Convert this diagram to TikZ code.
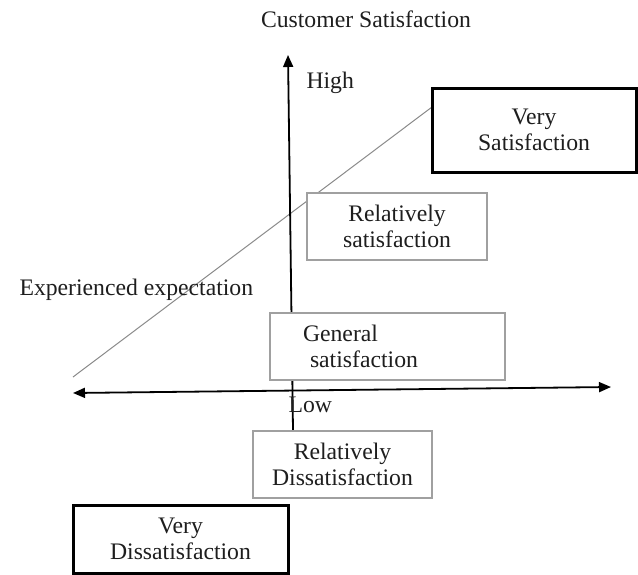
\documentclass[tikz,border=0pt]{standalone}
\usepackage{fontspec}
\setmainfont{Liberation Serif}
\usetikzlibrary{arrows.meta,backgrounds}

\definecolor{boxgray}{HTML}{A0A0A0}
\definecolor{diaggray}{HTML}{8A8A8A}
\definecolor{ink}{HTML}{1E1E1E}

\begin{document}
\begin{tikzpicture}[x=1pt,y=-1pt,
  every node/.style={font=\fontsize{23.7}{26}\selectfont, text=ink},
  lightbox/.style={draw=boxgray, line width=1.8pt, fill=white, align=center},
  heavybox/.style={draw=black, line width=3pt, fill=white, align=center},
  axisline/.style={draw=black, line width=1.8pt},
  axisarrow/.style={-{Triangle[length=12pt,width=10pt]}},
  trendline/.style={draw=diaggray, line width=1pt}]

  \useasboundingbox (0,0) rectangle (638,574);

  % labels
  \node[anchor=base] (title) at (366,27) {Customer Satisfaction};
  \node[anchor=base west] (high) at (303,88) {High};
  \node[anchor=base west] (expect) at (16,295) {Experienced expectation};
  \node[anchor=base west] (low) at (285,412) {Low};

  % satisfaction levels
  \node[heavybox, minimum width=204, minimum height=84] (vs) at (534,130)
    {Very\\Satisfaction};
  \node[lightbox, minimum width=180, minimum height=67] (rs) at (397,226.5)
    {Relatively\\satisfaction};
  \node[lightbox, minimum width=235, minimum height=67, inner xsep=33pt,
        text width=169pt, align=left] (gs) at (387.5,346.5)
    {General\\\hspace*{7pt}satisfaction};
  \node[lightbox, minimum width=179, minimum height=67] (rd) at (342.5,464.5)
    {Relatively\\Dissatisfaction};
  \node[heavybox, minimum width=215, minimum height=68] (vd) at (180.5,539)
    {Very\\Dissatisfaction};

  % axes and expectation line, kept behind the boxes
  \coordinate (ybot) at (293,430);
  \coordinate (ytop) at (288,55);
  \coordinate (xleft) at (73,393);
  \coordinate (xright) at (611,387);
  \coordinate (dstart) at (73,377);
  \coordinate (dend) at (432,107);

  \begin{scope}[on background layer]
    \draw[trendline] (dstart) -- (dend);
    \draw[axisline, axisarrow] (ybot) -- (ytop);
    \draw[axisline, {Triangle[length=12pt,width=10pt]}-{Triangle[length=12pt,width=10pt]}]
      (xleft) -- (xright);
  \end{scope}
\end{tikzpicture}
\end{document}
